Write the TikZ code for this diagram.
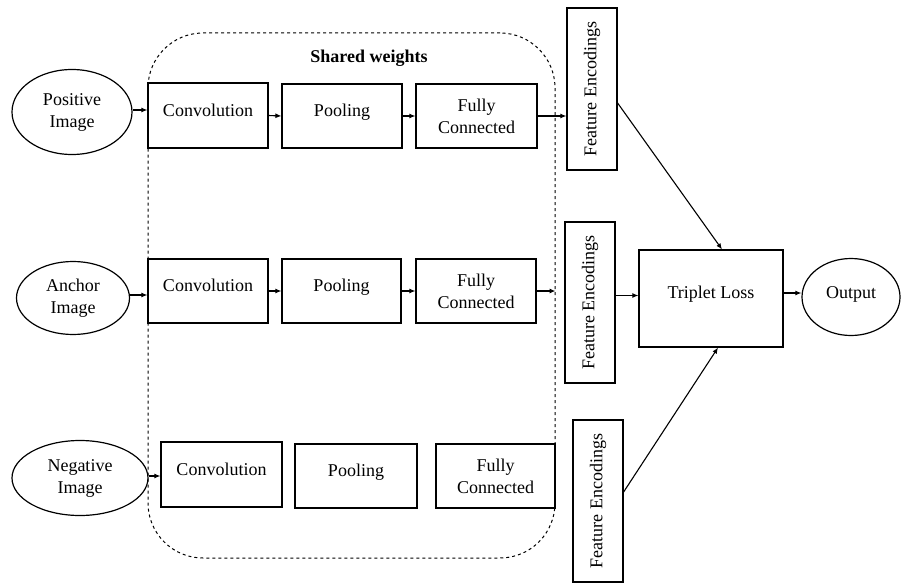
\documentclass[tikz,border=0pt]{standalone}
\usepackage{fontspec}
\setmainfont{Liberation Serif}
\newfontfamily\tnr{Liberation Serif}
\usetikzlibrary{shapes.geometric,arrows.meta,calc}
\begin{document}
\begin{tikzpicture}[x=1pt,y=-1pt,
  every node/.style={font=\tnr\fontsize{18}{22}\selectfont, align=center, inner sep=0pt},
  blk/.style={draw, line width=1.2pt, minimum width=120pt, minimum height=64pt},
  onel/.style={text depth=11pt},
  inp/.style={draw, ellipse, line width=1.2pt},
  fenc/.style={draw, line width=1.2pt, minimum width=50pt, minimum height=161pt},
  arr/.style={line width=1.1pt, -{Latex[length=6pt,width=5pt]}},
  wrap/.style={draw, dashed, line width=1pt, rounded corners=55pt}
]
\useasboundingbox (0,0) rectangle (901,583);
% container
\node[wrap, minimum width=407pt, minimum height=525pt] (sw) at (351.5,295.5) {};
\node[font=\tnr\fontsize{18}{22}\selectfont\bfseries] (swl) at (369,58) {Shared weights};
% inputs
\node[inp, minimum width=120pt, minimum height=85pt] (pos) at (72,112) {Positive\\Image};
\node[inp, minimum width=113pt, minimum height=73pt] (anc) at (73,298) {Anchor\\Image};
\node[inp, minimum width=136pt, minimum height=75pt] (neg) at (80,478) {Negative\\Image};
% row 1
\node[blk, onel, minimum height=65pt] (c1) at (208,115.5) {Convolution};
\node[blk, onel] (p1) at (342,116) {Pooling};
\node[blk, minimum width=121pt] (f1) at (476.5,116) {Fully\\Connected};
% row 2
\node[blk, onel] (c2) at (208,291) {Convolution};
\node[blk, onel, minimum width=119pt] (p2) at (341.5,291) {Pooling};
\node[blk] (f2) at (476,291) {Fully\\Connected};
% row 3
\node[blk, onel, minimum width=121pt, minimum height=65pt] (c3) at (221.5,474.5) {Convolution};
\node[blk, onel, minimum width=122pt] (p3) at (356,476) {Pooling};
\node[blk, minimum width=119pt] (f3) at (495.5,476) {Fully\\Connected};
% feature encodings
\node[fenc, minimum height=162pt] (fe1) at (592,89) {};
\node[rotate=90] (fe1t) at (fe1) {Feature Encodings};
\node[fenc] (fe2) at (590,302.5) {};
\node[rotate=90] (fe2t) at (fe2) {Feature Encodings};
\node[fenc, minimum height=162pt] (fe3) at (598,501) {};
\node[rotate=90] (fe3t) at (fe3) {Feature Encodings};
% loss and output
\node[draw, line width=1.2pt, minimum width=144pt, minimum height=97pt, text depth=12pt] (tl) at (711,298.5) {Triplet Loss};
\node[inp, minimum width=98pt, minimum height=77pt, text depth=8pt] (out) at (851,297) {Output};
% arrows
\draw[arr] ([yshift=2pt]pos.east) -- ([yshift=2pt]pos.east -| c1.west);
\draw[arr] (c1.east) -- (p1.west);
\draw[arr] (p1.east) -- (f1.west);
\draw[arr] (f1.east) -- (f1.east -| fe1.west);
\draw[arr] ([yshift=3pt]anc.east) -- ([yshift=3pt]anc.east -| c2.west);
\draw[arr] (c2.east) -- (p2.west);
\draw[arr] (p2.east) -- (f2.west);
\draw[arr] (f2.east) -- (f2.east -| sw.east);
\draw[arr] ([yshift=2pt]neg.east) -- ([yshift=2pt]neg.east -| c3.west);
\draw[arr] ($(fe1.east)+(0,14)$) -- ($(tl.north)+(11,0)$);
\draw[arr] ([yshift=7pt]fe2.east) -- ([yshift=7pt]fe2.east -| tl.west);
\draw[arr] ($(fe3.east)+(0,-9)$) -- ($(tl.south)+(7,0)$);
\draw[arr] ([yshift=4pt]out.west -| tl.east) -- ([yshift=4pt]out.west);
\end{tikzpicture}
\end{document}
